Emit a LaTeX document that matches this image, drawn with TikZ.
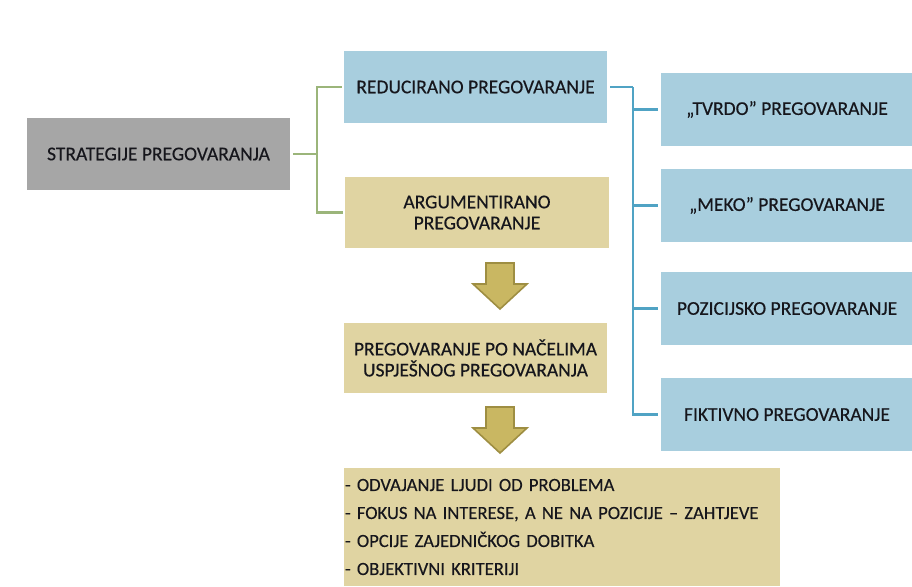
\documentclass[tikz,border=0pt]{standalone}
\usepackage{fontspec}
\setmainfont[FakeBold=0.35]{Carlito}
\definecolor{boxblue}{RGB}{168,206,222}
\definecolor{boxtan}{RGB}{224,212,162}
\definecolor{boxgray}{RGB}{166,166,166}
\definecolor{lngreen}{RGB}{155,181,122}
\definecolor{lnblue}{RGB}{80,163,196}
\definecolor{arrfill}{RGB}{201,183,98}
\definecolor{arrdraw}{RGB}{158,142,66}
\definecolor{txt}{RGB}{22,22,28}
\begin{document}
\begin{tikzpicture}[x=1pt,y=-1pt,
  box/.style={rectangle,inner sep=0pt,text=txt,align=center,
    font=\fontsize{19.5}{21}\selectfont},
  gline/.style={draw=lngreen,line width=2.6pt},
  bline/.style={draw=lnblue,line width=2.8pt},
  blockarr/.style={fill=arrfill,draw=arrdraw,line width=1.6pt,line join=miter}]
\useasboundingbox (0,0) rectangle (912,586);
\node[box,fill=boxgray,minimum width=263pt,minimum height=72pt] (strat) at (158.5,154) {STRATEGIJE PREGOVARANJA};
\node[box,fill=boxblue,minimum width=263pt,minimum height=72pt] (red) at (475.5,87) {REDUCIRANO PREGOVARANJE};
\node[box,fill=boxtan,minimum width=264pt,minimum height=71pt] (arg) at (477,212.5) {ARGUMENTIRANO\\PREGOVARANJE};
\node[box,fill=boxtan,minimum width=263pt,minimum height=70pt] (nac) at (475.5,358) {PREGOVARANJE PO NAČELIMA\\USPJEŠNOG PREGOVARANJA};
\node[box,fill=boxtan,minimum width=436pt,minimum height=118pt,text width=434pt,align=left,
  font=\fontsize{18.6}{28}\selectfont] (list) at (562,527)
  {- ODVAJANJE LJUDI OD PROBLEMA\\- FOKUS NA INTERESE, A NE NA POZICIJE – ZAHTJEVE\\- OPCIJE ZAJEDNIČKOG DOBITKA\\- OBJEKTIVNI KRITERIJI};
\node[box,fill=boxblue,minimum width=252pt,minimum height=73pt] (tvrdo) at (787,109.5) {„TVRDO” PREGOVARANJE};
\node[box,fill=boxblue,minimum width=252pt,minimum height=73pt] (meko) at (787,205.5) {„MEKO” PREGOVARANJE};
\node[box,fill=boxblue,minimum width=252pt,minimum height=73pt] (poz) at (787,308.5) {POZICIJSKO PREGOVARANJE};
\node[box,fill=boxblue,minimum width=252pt,minimum height=73pt] (fikt) at (787,414.5) {FIKTIVNO PREGOVARANJE};
% green connectors
\coordinate (gj) at (317,154);
\draw[gline,shorten <=3pt] (strat.east) -- (gj);
\draw[gline,shorten >=2pt] (gj) |- (red.west);
\draw[gline,shorten >=2pt] (gj) |- (arg.west);
% blue connectors
\coordinate (bj) at (633,87);
\draw[bline,shorten <=3pt] (red.east) -- (bj);
\draw[bline,shorten >=3pt] (bj) |- (tvrdo.west);
\draw[bline,shorten >=3pt] (bj) |- (meko.west);
\draw[bline,shorten >=3pt] (bj) |- (poz.west);
\draw[bline,shorten >=3pt] (bj) |- (fikt.west);
% block arrows
\draw[blockarr] (486,263) -- (514,263) -- (514,284) -- (527,284) -- (500,309) -- (473,284) -- (486,284) -- cycle;
\draw[blockarr] (486,407) -- (514,407) -- (514,428) -- (527,428) -- (500,453) -- (473,428) -- (486,428) -- cycle;
\end{tikzpicture}
\end{document}
